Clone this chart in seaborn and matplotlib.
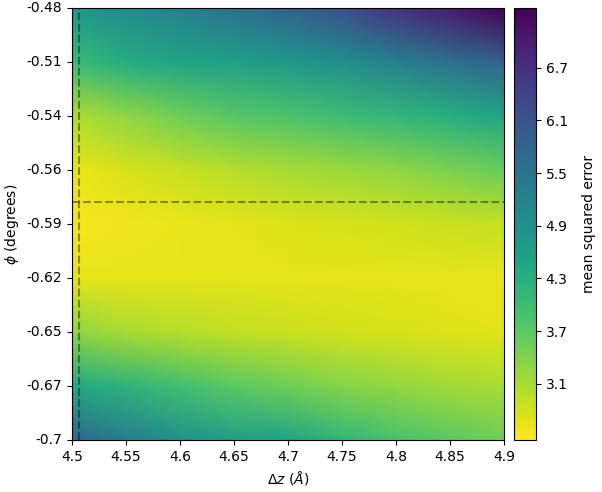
import numpy as np
import pandas as pd
import matplotlib
matplotlib.use("Agg")
import matplotlib.pyplot as plt
import seaborn as sns

# ejes de la rejilla
dz_vals = [4.5, 4.55, 4.6, 4.65, 4.7, 4.75, 4.8, 4.85, 4.9]
phi_vals = [-0.48, -0.5075, -0.535, -0.5625, -0.59, -0.6175, -0.645, -0.6725, -0.7]
dz_labels = ["4.5", "4.55", "4.6", "4.65", "4.7", "4.75", "4.8", "4.85", "4.9"]
phi_labels = ["-0.48", "-0.51", "-0.54", "-0.56", "-0.59", "-0.62", "-0.65", "-0.67", "-0.7"]

# error cuadratico medio, una fila por cada phi (de arriba a abajo)
mse_r0 = [4.75, 5.00, 5.25, 5.55, 5.85, 6.20, 6.65, 7.00, 7.38]
mse_r1 = [4.05, 4.35, 4.50, 4.60, 4.75, 4.95, 5.25, 5.55, 5.85]
mse_r2 = [3.05, 3.30, 3.55, 3.75, 3.85, 4.00, 4.15, 4.30, 4.50]
mse_r3 = [2.60, 2.75, 2.88, 3.00, 3.10, 3.20, 3.30, 3.45, 3.60]
mse_r4 = [2.50, 2.56, 2.62, 2.67, 2.72, 2.76, 2.80, 2.85, 2.90]
mse_r5 = [2.65, 2.65, 2.66, 2.67, 2.67, 2.67, 2.66, 2.65, 2.65]
mse_r6 = [3.30, 3.10, 3.00, 2.92, 2.86, 2.80, 2.75, 2.70, 2.68]
mse_r7 = [4.45, 4.20, 3.95, 3.72, 3.55, 3.38, 3.25, 3.15, 3.08]
mse_r8 = [5.75, 5.30, 4.90, 4.60, 4.50, 4.15, 3.90, 3.72, 3.55]

# mejor ajuste (lineas punteadas)
dz_best = 4.5065
phi_best = -0.5788

cbar_ticks = [3.1, 3.7, 4.3, 4.9, 5.5, 6.1, 6.7]

mse = pd.DataFrame([mse_r0, mse_r1, mse_r2, mse_r3, mse_r4, mse_r5, mse_r6, mse_r7, mse_r8],
                   index=phi_vals, columns=dz_vals)

fig = plt.figure(figsize=(6.02, 4.92), dpi=100)
ax = fig.add_axes([72 / 602, 52 / 492, 432 / 602, 432 / 492])
cax = fig.add_axes([514 / 602, 52 / 492, 22 / 602, 432 / 492])

sns.heatmap(mse, ax=ax, cbar_ax=cax, cmap="viridis_r", vmin=2.46, vmax=7.38,
            shading="gouraud", cbar_kws={"ticks": cbar_ticks})

n = len(dz_vals)
ax.set_xlim(0, n - 1)
ax.set_ylim(len(phi_vals) - 1, 0)
ax.set_xticks(np.arange(n))
ax.set_xticklabels(dz_labels, rotation=0)
ax.set_yticks(np.arange(len(phi_vals)))
ax.set_yticklabels(phi_labels, rotation=0)
for s in ax.spines.values():
    s.set_visible(True)
    s.set_linewidth(0.8)

cb = ax.collections[0].colorbar
cb.outline.set_linewidth(0.8)
cb.outline.set_edgecolor("black")
cb.set_ticklabels([str(t) for t in cbar_ticks])
cb.set_label("mean squared error", labelpad=10)

# lineas del minimo
x_best = (dz_best - dz_vals[0]) / (dz_vals[1] - dz_vals[0])
y_best = (phi_best - phi_vals[0]) / (phi_vals[1] - phi_vals[0])
ax.axvline(x_best, color="k", ls="--", alpha=0.4, lw=1.5)
ax.axhline(y_best, color="k", ls="--", alpha=0.4, lw=1.5)

ax.set_xlabel(r"$\Delta z$ ($\AA$)")
ax.set_ylabel(r"$\phi$ (degrees)")

fig.savefig("out.png", dpi=100)
